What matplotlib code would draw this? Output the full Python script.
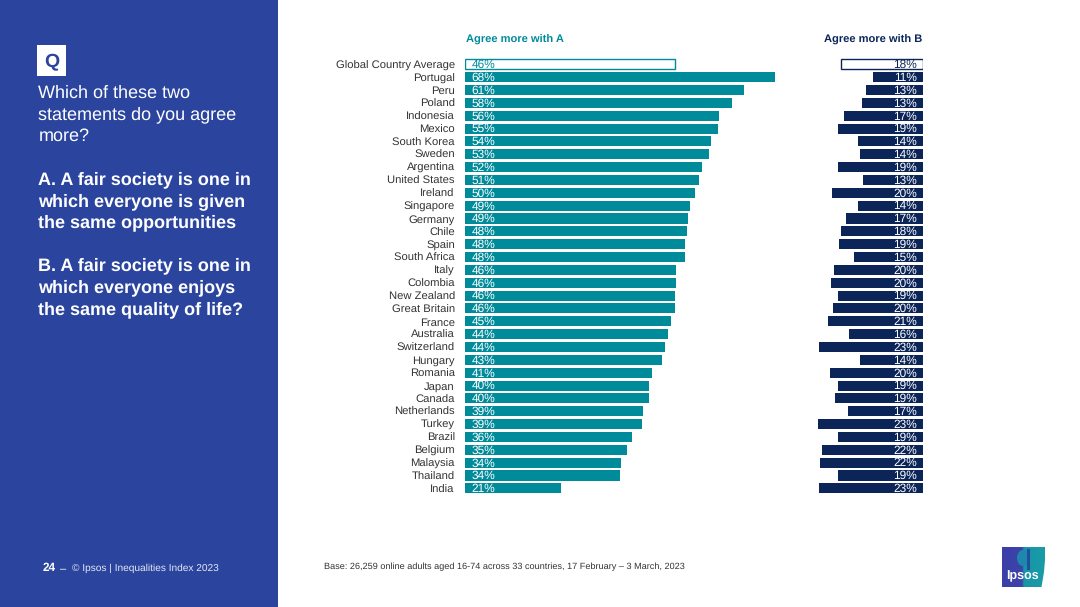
import numpy as np
import matplotlib
matplotlib.use("Agg")
import matplotlib.pyplot as plt
from matplotlib.patches import Rectangle, Polygon, Ellipse

plt.rcParams["font.family"] = ["Liberation Sans", "DejaVu Sans"]
plt.rcParams["text.hinting"] = "no_hinting"

# Data
countries = ["Global Country Average", "Portugal", "Peru", "Poland", "Indonesia", "Mexico",
             "South Korea", "Sweden", "Argentina", "United States", "Ireland", "Singapore",
             "Germany", "Chile", "Spain", "South Africa", "Italy", "Colombia", "New Zealand",
             "Great Britain", "France", "Australia", "Switzerland", "Hungary", "Romania",
             "Japan", "Canada", "Netherlands", "Turkey", "Brazil", "Belgium", "Malaysia",
             "Thailand", "India"]
# bar lengths, the printed labels are rounded
agree_a = [46, 68, 61.2, 58.5, 55.8, 55.6, 54.1, 53.6, 52, 51.3, 50.4, 49.3, 48.9, 48.7, 48.3,
           48.2, 46.4, 46.4, 46.2, 46, 45.3, 44.5, 43.8, 43.3, 41.1, 40.5, 40.3, 39.1, 38.8,
           36.6, 35.5, 34.2, 34, 21]
agree_b = [18, 11, 12.5, 13.4, 17.3, 18.6, 14.3, 13.8, 18.6, 13.2, 20, 14.3, 16.9, 18, 18.4,
           15.1, 19.5, 20.2, 18.6, 19.7, 20.8, 16.2, 22.8, 13.8, 20.4, 18.6, 19.3, 16.4, 23,
           18.6, 22.1, 22.6, 18.6, 22.8]
labels_a = [46, 68, 61, 58, 56, 55, 54, 53, 52, 51, 50, 49, 49, 48, 48, 48, 46, 46, 46, 46, 45,
            44, 44, 43, 41, 40, 40, 39, 39, 36, 35, 34, 34, 21]
labels_b = [18, 11, 13, 13, 17, 19, 14, 14, 19, 13, 20, 14, 17, 18, 19, 15, 20, 20, 19, 20, 21,
            16, 23, 14, 20, 19, 19, 17, 23, 19, 22, 22, 19, 23]

W, H = 1080, 607
BLUE = "#2b459f"
TEAL = "#008b9b"
NAVY = "#0b2559"

fig = plt.figure(figsize=(W / 100, H / 100), dpi=100, facecolor="white")

# page axes in pixels, for the side panel and loose text
page = fig.add_axes([0, 0, 1, 1])
page.set_xlim(0, W)
page.set_ylim(H, 0)
page.axis("off")

page.add_patch(Rectangle((0, 0), 278, H, color=BLUE, lw=0))
page.add_patch(Rectangle((37, 45), 29, 30.5, color="white", lw=0))
page.text(51.5, 67.5, "Q", color=BLUE, fontsize=14, fontweight="bold", ha="center", va="baseline")

question = [("Which of these two", 97.5, "normal"), ("statements do you agree", 119.5, "normal"),
            ("more?", 141, "normal"),
            ("A. A fair society is one in", 184, "bold"), ("which everyone is given", 205.7, "bold"),
            ("the same opportunities", 227.7, "bold"),
            ("B. A fair society is one in", 270.7, "bold"), ("which everyone enjoys", 292.3, "bold"),
            ("the same quality of life?", 314, "bold")]
for txt, y, weight in question:
    page.text(38.5, y, txt, color="white", fontsize=13, fontweight=weight, va="baseline", ha="left")

page.text(43, 571, "24", color="white", fontsize=8.5, fontweight="bold", va="baseline")
page.text(60, 571, "–", color="white", fontsize=8, va="baseline")
page.text(72, 571, "© Ipsos | Inequalities Index 2023", color="#e4e8f4", fontsize=7.3, va="baseline")

page.text(466, 43, "Agree more with A", color=TEAL, fontsize=8.05, fontweight="bold", va="baseline")
page.text(824.5, 43, "Agree more with B", color=NAVY, fontsize=8.05, fontweight="bold", va="baseline")
page.text(324, 569, "Base: 26,259 online adults aged 16-74 across 33 countries, 17 February – 3 March, 2023",
          color="#333333", fontsize=6.55, va="baseline")

# logo
grad = np.linspace(0, 1, 86).reshape(1, -1)
cmap = matplotlib.colors.LinearSegmentedColormap.from_list(
    "logo", [(0, "#3b3fa8"), (0.47, "#3b44a8"), (0.51, "#1795a6"), (1, "#1a9ca8")])
im = page.imshow(grad, extent=(1002, 1045, 587, 547), cmap=cmap, aspect="auto", zorder=2)
clip = Polygon([(1002, 547), (1045, 547), (1045, 560), (1044, 572), (1041.5, 587), (1002, 587)],
               transform=page.transData, fc="none", ec="none")
page.add_patch(clip)
im.set_clip_path(clip)
page.add_patch(Ellipse((1023, 558), 12, 16, color="#1f86ad", lw=0, zorder=3))
page.add_patch(Rectangle((1026.5, 549), 3.5, 21, color="#1f4fa0", lw=0, zorder=3))
page.text(1022.5, 579, "Ipsos", color="white", fontsize=9, fontweight="bold",
          ha="center", va="baseline", zorder=4)
page.set_xlim(0, W)
page.set_ylim(H, 0)

# both bar axes share a scale of 4.56 px per percent
PX = 4.56
y0, step = 64.3, 12.85
x0_a = 464.8
top, bottom = 50, 500
y_lim = ((top - y0) / step, (bottom - y0) / step)
y = np.arange(len(countries))

ax_a = fig.add_axes([x0_a / W, 1 - bottom / H, 320 / W, (bottom - top) / H])
ax_a.set_xlim(0, 320 / PX)
ax_a.set_ylim(y_lim[1], y_lim[0])
ax_b = fig.add_axes([813 / W, 1 - bottom / H, 110 / W, (bottom - top) / H])
ax_b.set_xlim(110 / PX, 0)
ax_b.set_ylim(y_lim[1], y_lim[0])
for ax in (ax_a, ax_b):
    ax.axis("off")
    ax.patch.set_alpha(0)

bars_a = ax_a.barh(y, agree_a, height=0.78, color=TEAL, lw=0)
bars_a[0].set(facecolor="white", edgecolor=TEAL, linewidth=1)
bars_b = ax_b.barh(y, agree_b, height=0.78, color=NAVY, lw=0)
bars_b[0].set(facecolor="white", edgecolor=NAVY, linewidth=1)

# baselines sit just above the bottom of each bar
for i, name in enumerate(countries):
    ax_a.text(-2.2, i + 0.32, name, ha="right", va="baseline", fontsize=8.1, color="#333333",
              clip_on=False)
    ax_a.text(1.5, i + 0.29, f"{labels_a[i]}%", ha="left", va="baseline", fontsize=8.6,
              color=TEAL if i == 0 else "white")
    ax_b.text(1.3, i + 0.29, f"{labels_b[i]}%", ha="right", va="baseline", fontsize=8.6,
              color=NAVY if i == 0 else "white")

fig.savefig("out.png", dpi=100)
